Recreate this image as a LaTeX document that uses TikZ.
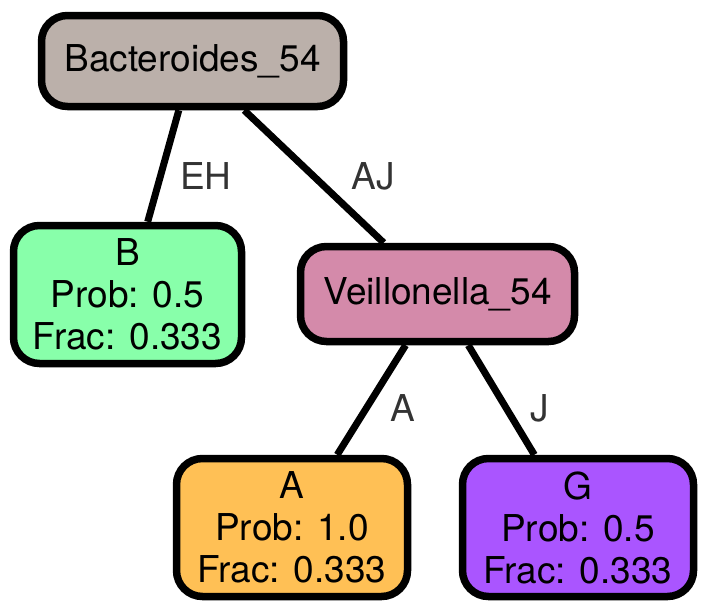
\documentclass[tikz,border=0pt]{standalone}
\usepackage{fontspec}
\setmainfont{TeX Gyre Heros}
\begin{document}
\begin{tikzpicture}[x=1pt,y=-1pt,
  box/.style={draw=black,line width=7.5pt,rounded corners=26pt,align=center,
    inner sep=0pt,font=\fontsize{37}{42}\selectfont},
  link/.style={draw=black,line width=7pt},
  lbl/.style={text=black!80,font=\fontsize{37}{42}\selectfont}]
\useasboundingbox (0,0) rectangle (708,613);
\node[box,fill={rgb,255:red,187;green,176;blue,170},minimum width=302pt,minimum height=91pt]
  (bac) at (192.5,61) {Bacteroides\_54};
\node[box,fill={rgb,255:red,136;green,255;blue,170},minimum width=228pt,minimum height=138pt]
  (b) at (127.5,294.5) {B\\Prob: 0.5\\Frac: 0.333};
\node[box,fill={rgb,255:red,212;green,138;blue,170},minimum width=274pt,minimum height=95pt]
  (vei) at (437.5,294) {Veillonella\_54};
\node[box,fill={rgb,255:red,255;green,192;blue,85},minimum width=231pt,minimum height=138pt]
  (a) at (292,527.5) {A\\Prob: 1.0\\Frac: 0.333};
\node[box,fill={rgb,255:red,170;green,85;blue,255},minimum width=231pt,minimum height=138pt]
  (g) at (578,527.5) {G\\Prob: 0.5\\Frac: 0.333};
\draw[link] (bac) -- (b);
\draw[link] (bac) -- (vei);
\draw[link] (vei) -- (a);
\draw[link] (vei) -- (g);
\node[lbl] (leh) at (206,176) {EH};
\node[lbl] (laj) at (373,176) {AJ};
\node[lbl] (la) at (403,408) {A};
\node[lbl] (lj) at (540,408) {J};
\end{tikzpicture}
\end{document}
